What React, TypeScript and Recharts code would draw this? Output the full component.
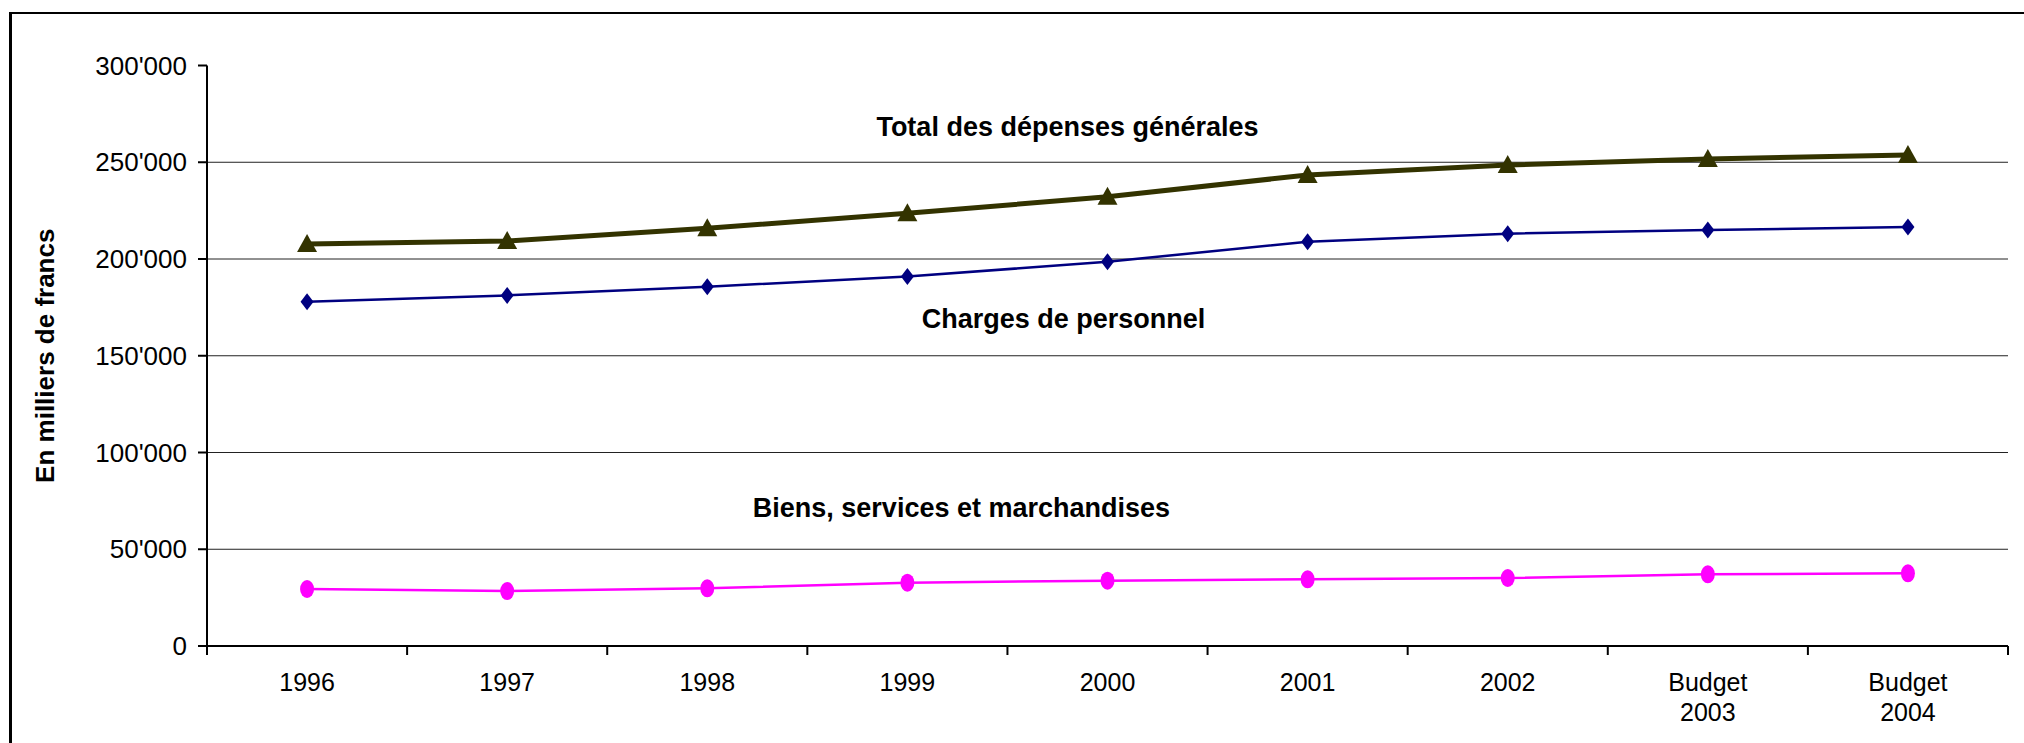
import React from "react";
import { LineChart, Line, XAxis, YAxis, CartesianGrid, ReferenceDot } from "recharts";

const categories = ["1996", "1997", "1998", "1999", "2000", "2001", "2002", "Budget 2003", "Budget 2004"];
const totalDepenses = [207750, 209300, 215850, 223600, 232200, 243400, 248600, 251700, 253700];
const chargesPersonnel = [177900, 181200, 185700, 190900, 198600, 208900, 213100, 215000, 216500];
const biensServices = [29460, 28400, 29800, 32700, 33750, 34450, 35140, 37040, 37560];
const yTicks = [0, 50000, 100000, 150000, 200000, 250000, 300000];
const gridValues = [50000, 100000, 150000, 200000, 250000];

// series labels placed in data space (category position, value)
const annotations = [
  { text: "Total des dépenses générales", x: 4.3, y: 268500 },
  { text: "Charges de personnel", x: 4.28, y: 169100 },
  { text: "Biens, services et marchandises", x: 3.77, y: 71800 },
];

const FONT = "'Liberation Sans', Arial, sans-serif";

const data = categories.map((label, i) => ({
  x: i + 0.5,
  label,
  total: totalDepenses[i],
  charges: chargesPersonnel[i],
  biens: biensServices[i],
}));

// ticks at category boundaries, labels at category centres
const xTicks: number[] = [];
for (let i = 0; i <= categories.length; i++) {
  xTicks.push(i);
  if (i < categories.length) xTicks.push(i + 0.5);
}

const fmt = (v: number) => String(v).replace(/\B(?=(\d{3})+(?!\d))/g, "'");

function CategoryTick(props: any) {
  const { x, y, payload } = props;
  const v = payload.value;
  if (Number.isInteger(v)) {
    return <line x1={x} y1={y} x2={x} y2={y + 9} stroke="#000" strokeWidth={2} />;
  }
  const lines = categories[Math.floor(v)].split(" ");
  return (
    <text x={x} y={y} textAnchor="middle" fontSize={25} fontFamily={FONT} fill="#000">
      {lines.map((l, i) => (
        <tspan key={i} x={x} dy={i === 0 ? 45 : 29.6}>
          {l}
        </tspan>
      ))}
    </text>
  );
}

const Triangle = (p: any) =>
  p.cx == null ? null : (
    <path
      key={p.index}
      d={`M${p.cx},${p.cy - 10}L${p.cx + 10},${p.cy + 8}L${p.cx - 10},${p.cy + 8}Z`}
      fill="#333300"
    />
  );

const Diamond = (p: any) =>
  p.cx == null ? null : (
    <path
      key={p.index}
      d={`M${p.cx},${p.cy - 8.5}L${p.cx + 6.5},${p.cy}L${p.cx},${p.cy + 8.5}L${p.cx - 6.5},${p.cy}Z`}
      fill="#000080"
    />
  );

const Ellipse = (p: any) =>
  p.cx == null ? null : <ellipse key={p.index} cx={p.cx} cy={p.cy} rx={7} ry={9} fill="#ff00ff" />;

export default function App() {
  return (
    <div style={{ position: "absolute", left: 0, top: 0, width: 2024, height: 743, overflow: "hidden", background: "#fff" }}>
      <div
        style={{
          position: "absolute",
          left: 9,
          top: 12,
          width: 2100,
          height: 800,
          borderLeft: "3px solid #000",
          borderTop: "2px solid #000",
        }}
      />
      <div style={{ position: "absolute", left: 0, top: 0 }}>
        <LineChart width={2024} height={743} data={data} margin={{ top: 65.5, right: 16, left: 20, bottom: 37 }}>
          <CartesianGrid horizontal vertical={false} horizontalValues={gridValues} stroke="#222" strokeWidth={1} />
          <XAxis
            type="number"
            dataKey="x"
            domain={[0, categories.length]}
            ticks={xTicks}
            interval={0}
            allowDecimals
            height={60}
            tickSize={0}
            tickMargin={0}
            tickLine={false}
            axisLine={{ stroke: "#000", strokeWidth: 2 }}
            tick={<CategoryTick />}
          />
          <YAxis
            domain={[0, 300000]}
            ticks={yTicks}
            interval={0}
            width={187}
            tickSize={9}
            tickMargin={11}
            tickFormatter={fmt}
            tick={{ fontSize: 26, fill: "#000", fontFamily: FONT }}
            tickLine={{ stroke: "#000", strokeWidth: 2 }}
            axisLine={{ stroke: "#000", strokeWidth: 2 }}
            label={{
              value: "En milliers de francs",
              angle: -90,
              position: "insideLeft",
              offset: 25,
              style: { textAnchor: "middle", fontSize: 26, fontWeight: "bold", fontFamily: FONT, fill: "#000" },
            }}
          />
          <Line
            dataKey="total"
            stroke="#333300"
            strokeWidth={5}
            dot={Triangle}
            activeDot={false}
            isAnimationActive={false}
          />
          <Line
            dataKey="charges"
            stroke="#000080"
            strokeWidth={2.5}
            dot={Diamond}
            activeDot={false}
            isAnimationActive={false}
          />
          <Line
            dataKey="biens"
            stroke="#ff00ff"
            strokeWidth={2.5}
            dot={Ellipse}
            activeDot={false}
            isAnimationActive={false}
          />
          {annotations.map((a) => (
            <ReferenceDot
              key={a.text}
              x={a.x}
              y={a.y}
              r={0}
              fill="none"
              stroke="none"
              label={{
                value: a.text,
                position: "center",
                style: { fontSize: 27, fontWeight: "bold", fontFamily: FONT, fill: "#000" },
              }}
            />
          ))}
        </LineChart>
      </div>
    </div>
  );
}
